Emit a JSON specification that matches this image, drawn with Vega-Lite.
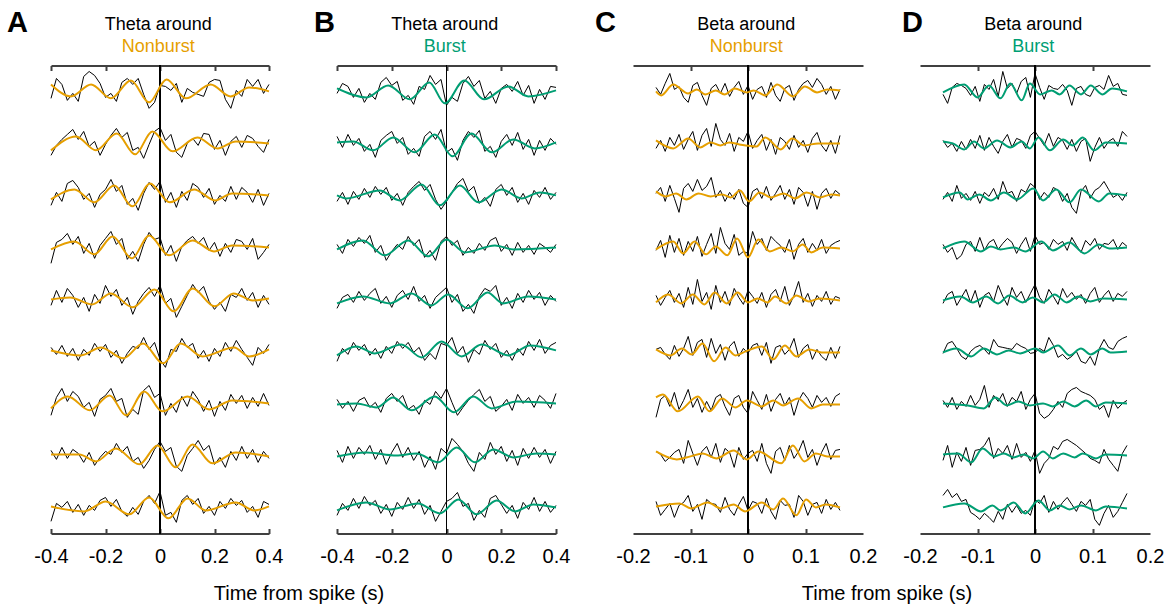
{
"$schema":"https://vega.github.io/schema/vega-lite/v6.json",
"padding":{"left":7,"top":8.5,"right":0,"bottom":0},
"config":{"font":"Liberation Sans","view":{"stroke":null},
"axis":{"domainColor":"#404040","domainWidth":2,"tickColor":"#404040","tickWidth":2,"tickSize":-5,"labelFontSize":20,"labelColor":"#000","labelPadding":18,"grid":false,"labelFlush":false,"labelOverlap":false,"title":null},
"title":{"fontSize":18,"fontWeight":"normal","color":"#000","subtitleFontSize":18,"subtitlePadding":4,"font":"Liberation Sans","subtitleFont":"Liberation Sans"}},
"spacing":25,
"hconcat":[
{"spacing":31,"title":{"text":"Time from spike (s)","orient":"bottom","anchor":"middle","frame":"bounds","fontSize":20,"offset":17,"dx":10.5},
"hconcat":[
{"title":{"text":"A","anchor":"start","frame":"group","fontSize":29,"fontWeight":"bold","dx":-44,"dy":26},
"vconcat":[{
"title":{"text":"Theta around","subtitle":"Nonburst","subtitleColor":"#E69F00","anchor":"middle","offset":8.25},
"data":{"values":[
{"k":1,"t":-0.4,"v":-7},{"k":1,"t":-0.38,"v":13},{"k":1,"t":-0.36,"v":7},{"k":1,"t":-0.34,"v":-9},{"k":1,"t":-0.32,"v":-2},{"k":1,"t":-0.3,"v":-10},{"k":1,"t":-0.28,"v":15},{"k":1,"t":-0.26,"v":20},{"k":1,"t":-0.24,"v":16},{"k":1,"t":-0.22,"v":8},{"k":1,"t":-0.2,"v":-6},{"k":1,"t":-0.18,"v":-2},{"k":1,"t":-0.16,"v":-10},{"k":1,"t":-0.14,"v":9},{"k":1,"t":-0.12,"v":13},{"k":1,"t":-0.1,"v":7},{"k":1,"t":-0.08,"v":13},{"k":1,"t":-0.06,"v":-3},{"k":1,"t":-0.04,"v":-17},{"k":1,"t":-0.02,"v":-11},{"k":1,"t":0,"v":6},{"k":1,"t":0.02,"v":5},{"k":1,"t":0.04,"v":1},{"k":1,"t":0.06,"v":8},{"k":1,"t":0.08,"v":-11},{"k":1,"t":0.1,"v":3},{"k":1,"t":0.12,"v":-1},{"k":1,"t":0.14,"v":-3},{"k":1,"t":0.16,"v":-5},{"k":1,"t":0.18,"v":9},{"k":1,"t":0.2,"v":12},{"k":1,"t":0.22,"v":11},{"k":1,"t":0.24,"v":-8},{"k":1,"t":0.26,"v":-17},{"k":1,"t":0.28,"v":1},{"k":1,"t":0.3,"v":-5},{"k":1,"t":0.32,"v":12},{"k":1,"t":0.34,"v":5},{"k":1,"t":0.36,"v":12},{"k":1,"t":0.38,"v":-2},{"k":1,"t":0.4,"v":7},
{"k":2,"t":-0.4,"v":-12},{"k":2,"t":-0.38,"v":-2},{"k":2,"t":-0.36,"v":4},{"k":2,"t":-0.34,"v":9},{"k":2,"t":-0.32,"v":14},{"k":2,"t":-0.3,"v":4},{"k":2,"t":-0.28,"v":12},{"k":2,"t":-0.26,"v":-3},{"k":2,"t":-0.24,"v":2},{"k":2,"t":-0.22,"v":-12},{"k":2,"t":-0.2,"v":-1},{"k":2,"t":-0.18,"v":8},{"k":2,"t":-0.16,"v":15},{"k":2,"t":-0.14,"v":6},{"k":2,"t":-0.12,"v":11},{"k":2,"t":-0.1,"v":-7},{"k":2,"t":-0.08,"v":-4},{"k":2,"t":-0.06,"v":-15},{"k":2,"t":-0.04,"v":-1},{"k":2,"t":-0.02,"v":12},{"k":2,"t":0,"v":16},{"k":2,"t":0.02,"v":3},{"k":2,"t":0.04,"v":9},{"k":2,"t":0.06,"v":-9},{"k":2,"t":0.08,"v":-14},{"k":2,"t":0.1,"v":0},{"k":2,"t":0.12,"v":5},{"k":2,"t":0.14,"v":-2},{"k":2,"t":0.16,"v":10},{"k":2,"t":0.18,"v":9},{"k":2,"t":0.2,"v":-6},{"k":2,"t":0.22,"v":3},{"k":2,"t":0.24,"v":-12},{"k":2,"t":0.26,"v":2},{"k":2,"t":0.28,"v":7},{"k":2,"t":0.3,"v":-4},{"k":2,"t":0.32,"v":8},{"k":2,"t":0.34,"v":5},{"k":2,"t":0.36,"v":-3},{"k":2,"t":0.38,"v":-9},{"k":2,"t":0.4,"v":4},
{"k":3,"t":-0.4,"v":-10},{"k":3,"t":-0.38,"v":3},{"k":3,"t":-0.36,"v":-6},{"k":3,"t":-0.34,"v":12},{"k":3,"t":-0.32,"v":15},{"k":3,"t":-0.3,"v":8},{"k":3,"t":-0.28,"v":-4},{"k":3,"t":-0.26,"v":2},{"k":3,"t":-0.24,"v":-12},{"k":3,"t":-0.22,"v":1},{"k":3,"t":-0.2,"v":6},{"k":3,"t":-0.18,"v":16},{"k":3,"t":-0.16,"v":4},{"k":3,"t":-0.14,"v":10},{"k":3,"t":-0.12,"v":-9},{"k":3,"t":-0.1,"v":-3},{"k":3,"t":-0.08,"v":-15},{"k":3,"t":-0.06,"v":2},{"k":3,"t":-0.04,"v":13},{"k":3,"t":-0.02,"v":6},{"k":3,"t":0,"v":14},{"k":3,"t":0.02,"v":-7},{"k":3,"t":0.04,"v":3},{"k":3,"t":0.06,"v":-12},{"k":3,"t":0.08,"v":4},{"k":3,"t":0.1,"v":-5},{"k":3,"t":0.12,"v":12},{"k":3,"t":0.14,"v":8},{"k":3,"t":0.16,"v":-2},{"k":3,"t":0.18,"v":7},{"k":3,"t":0.2,"v":-9},{"k":3,"t":0.22,"v":0},{"k":3,"t":0.24,"v":-6},{"k":3,"t":0.26,"v":9},{"k":3,"t":0.28,"v":-4},{"k":3,"t":0.3,"v":8},{"k":3,"t":0.32,"v":3},{"k":3,"t":0.34,"v":-7},{"k":3,"t":0.36,"v":6},{"k":3,"t":0.38,"v":-10},{"k":3,"t":0.4,"v":2},
{"k":4,"t":-0.4,"v":-16},{"k":4,"t":-0.38,"v":5},{"k":4,"t":-0.36,"v":8},{"k":4,"t":-0.34,"v":14},{"k":4,"t":-0.32,"v":3},{"k":4,"t":-0.3,"v":11},{"k":4,"t":-0.28,"v":-6},{"k":4,"t":-0.26,"v":4},{"k":4,"t":-0.24,"v":-11},{"k":4,"t":-0.22,"v":2},{"k":4,"t":-0.2,"v":9},{"k":4,"t":-0.18,"v":16},{"k":4,"t":-0.16,"v":3},{"k":4,"t":-0.14,"v":9},{"k":4,"t":-0.12,"v":-12},{"k":4,"t":-0.1,"v":-4},{"k":4,"t":-0.08,"v":-14},{"k":4,"t":-0.06,"v":3},{"k":4,"t":-0.04,"v":15},{"k":4,"t":-0.02,"v":8},{"k":4,"t":0,"v":10},{"k":4,"t":0.02,"v":-8},{"k":4,"t":0.04,"v":2},{"k":4,"t":0.06,"v":-14},{"k":4,"t":0.08,"v":1},{"k":4,"t":0.1,"v":7},{"k":4,"t":0.12,"v":11},{"k":4,"t":0.14,"v":4},{"k":4,"t":0.16,"v":10},{"k":4,"t":0.18,"v":-3},{"k":4,"t":0.2,"v":5},{"k":4,"t":0.22,"v":-9},{"k":4,"t":0.24,"v":4},{"k":4,"t":0.26,"v":-5},{"k":4,"t":0.28,"v":8},{"k":4,"t":0.3,"v":6},{"k":4,"t":0.32,"v":-2},{"k":4,"t":0.34,"v":9},{"k":4,"t":0.36,"v":-12},{"k":4,"t":0.38,"v":-5},{"k":4,"t":0.4,"v":3},
{"k":5,"t":-0.4,"v":-6},{"k":5,"t":-0.38,"v":9},{"k":5,"t":-0.36,"v":-3},{"k":5,"t":-0.34,"v":11},{"k":5,"t":-0.32,"v":4},{"k":5,"t":-0.3,"v":-8},{"k":5,"t":-0.28,"v":2},{"k":5,"t":-0.26,"v":-12},{"k":5,"t":-0.24,"v":5},{"k":5,"t":-0.22,"v":-4},{"k":5,"t":-0.2,"v":14},{"k":5,"t":-0.18,"v":3},{"k":5,"t":-0.16,"v":10},{"k":5,"t":-0.14,"v":-6},{"k":5,"t":-0.12,"v":2},{"k":5,"t":-0.1,"v":-15},{"k":5,"t":-0.08,"v":-2},{"k":5,"t":-0.06,"v":6},{"k":5,"t":-0.04,"v":12},{"k":5,"t":-0.02,"v":3},{"k":5,"t":0,"v":14},{"k":5,"t":0.02,"v":-4},{"k":5,"t":0.04,"v":1},{"k":5,"t":0.06,"v":-18},{"k":5,"t":0.08,"v":-7},{"k":5,"t":0.1,"v":4},{"k":5,"t":0.12,"v":15},{"k":5,"t":0.14,"v":7},{"k":5,"t":0.16,"v":13},{"k":5,"t":0.18,"v":-2},{"k":5,"t":0.2,"v":-10},{"k":5,"t":0.22,"v":-3},{"k":5,"t":0.24,"v":-12},{"k":5,"t":0.26,"v":5},{"k":5,"t":0.28,"v":2},{"k":5,"t":0.3,"v":11},{"k":5,"t":0.32,"v":-1},{"k":5,"t":0.34,"v":7},{"k":5,"t":0.36,"v":-8},{"k":5,"t":0.38,"v":4},{"k":5,"t":0.4,"v":-5},
{"k":6,"t":-0.4,"v":4},{"k":6,"t":-0.38,"v":-3},{"k":6,"t":-0.36,"v":6},{"k":6,"t":-0.34,"v":-5},{"k":6,"t":-0.32,"v":3},{"k":6,"t":-0.3,"v":-9},{"k":6,"t":-0.28,"v":2},{"k":6,"t":-0.26,"v":-4},{"k":6,"t":-0.24,"v":8},{"k":6,"t":-0.22,"v":0},{"k":6,"t":-0.2,"v":7},{"k":6,"t":-0.18,"v":-6},{"k":6,"t":-0.16,"v":1},{"k":6,"t":-0.14,"v":-12},{"k":6,"t":-0.12,"v":-2},{"k":6,"t":-0.1,"v":5},{"k":6,"t":-0.08,"v":3},{"k":6,"t":-0.06,"v":14},{"k":6,"t":-0.04,"v":2},{"k":6,"t":-0.02,"v":9},{"k":6,"t":0,"v":-8},{"k":6,"t":0.02,"v":-16},{"k":6,"t":0.04,"v":2},{"k":6,"t":0.06,"v":0},{"k":6,"t":0.08,"v":13},{"k":6,"t":0.1,"v":4},{"k":6,"t":0.12,"v":8},{"k":6,"t":0.14,"v":-7},{"k":6,"t":0.16,"v":1},{"k":6,"t":0.18,"v":-10},{"k":6,"t":0.2,"v":3},{"k":6,"t":0.22,"v":-5},{"k":6,"t":0.24,"v":9},{"k":6,"t":0.26,"v":0},{"k":6,"t":0.28,"v":11},{"k":6,"t":0.3,"v":2},{"k":6,"t":0.32,"v":-6},{"k":6,"t":0.34,"v":-14},{"k":6,"t":0.36,"v":4},{"k":6,"t":0.38,"v":-2},{"k":6,"t":0.4,"v":7},
{"k":7,"t":-0.4,"v":-12},{"k":7,"t":-0.38,"v":6},{"k":7,"t":-0.36,"v":15},{"k":7,"t":-0.34,"v":2},{"k":7,"t":-0.32,"v":12},{"k":7,"t":-0.3,"v":7},{"k":7,"t":-0.28,"v":-4},{"k":7,"t":-0.26,"v":1},{"k":7,"t":-0.24,"v":-13},{"k":7,"t":-0.22,"v":4},{"k":7,"t":-0.2,"v":8},{"k":7,"t":-0.18,"v":15},{"k":7,"t":-0.16,"v":2},{"k":7,"t":-0.14,"v":5},{"k":7,"t":-0.12,"v":-14},{"k":7,"t":-0.1,"v":-6},{"k":7,"t":-0.08,"v":-11},{"k":7,"t":-0.06,"v":13},{"k":7,"t":-0.04,"v":18},{"k":7,"t":-0.02,"v":6},{"k":7,"t":0,"v":10},{"k":7,"t":0.02,"v":-12},{"k":7,"t":0.04,"v":0},{"k":7,"t":0.06,"v":-9},{"k":7,"t":0.08,"v":7},{"k":7,"t":0.1,"v":-3},{"k":7,"t":0.12,"v":12},{"k":7,"t":0.14,"v":4},{"k":7,"t":0.16,"v":-8},{"k":7,"t":0.18,"v":3},{"k":7,"t":0.2,"v":-13},{"k":7,"t":0.22,"v":2},{"k":7,"t":0.24,"v":-7},{"k":7,"t":0.26,"v":9},{"k":7,"t":0.28,"v":0},{"k":7,"t":0.3,"v":8},{"k":7,"t":0.32,"v":-5},{"k":7,"t":0.34,"v":6},{"k":7,"t":0.36,"v":-3},{"k":7,"t":0.38,"v":10},{"k":7,"t":0.4,"v":-2},
{"k":8,"t":-0.4,"v":5},{"k":8,"t":-0.38,"v":-4},{"k":8,"t":-0.36,"v":8},{"k":8,"t":-0.34,"v":-3},{"k":8,"t":-0.32,"v":6},{"k":8,"t":-0.3,"v":2},{"k":8,"t":-0.28,"v":-7},{"k":8,"t":-0.26,"v":3},{"k":8,"t":-0.24,"v":-10},{"k":8,"t":-0.22,"v":-2},{"k":8,"t":-0.2,"v":4},{"k":8,"t":-0.18,"v":1},{"k":8,"t":-0.16,"v":12},{"k":8,"t":-0.14,"v":3},{"k":8,"t":-0.12,"v":9},{"k":8,"t":-0.1,"v":-6},{"k":8,"t":-0.08,"v":-2},{"k":8,"t":-0.06,"v":-13},{"k":8,"t":-0.04,"v":-5},{"k":8,"t":-0.02,"v":6},{"k":8,"t":0,"v":14},{"k":8,"t":0.02,"v":4},{"k":8,"t":0.04,"v":8},{"k":8,"t":0.06,"v":-11},{"k":8,"t":0.08,"v":-16},{"k":8,"t":0.1,"v":0},{"k":8,"t":0.12,"v":7},{"k":8,"t":0.14,"v":15},{"k":8,"t":0.16,"v":5},{"k":8,"t":0.18,"v":10},{"k":8,"t":0.2,"v":-9},{"k":8,"t":0.22,"v":-2},{"k":8,"t":0.24,"v":-12},{"k":8,"t":0.26,"v":4},{"k":8,"t":0.28,"v":-5},{"k":8,"t":0.3,"v":9},{"k":8,"t":0.32,"v":-3},{"k":8,"t":0.34,"v":6},{"k":8,"t":0.36,"v":-7},{"k":8,"t":0.38,"v":4},{"k":8,"t":0.4,"v":-3},
{"k":9,"t":-0.4,"v":-14},{"k":9,"t":-0.38,"v":4},{"k":9,"t":-0.36,"v":0},{"k":9,"t":-0.34,"v":6},{"k":9,"t":-0.32,"v":-5},{"k":9,"t":-0.3,"v":3},{"k":9,"t":-0.28,"v":-8},{"k":9,"t":-0.26,"v":2},{"k":9,"t":-0.24,"v":-3},{"k":9,"t":-0.22,"v":7},{"k":9,"t":-0.2,"v":10},{"k":9,"t":-0.18,"v":1},{"k":9,"t":-0.16,"v":8},{"k":9,"t":-0.14,"v":-4},{"k":9,"t":-0.12,"v":-9},{"k":9,"t":-0.1,"v":0},{"k":9,"t":-0.08,"v":-7},{"k":9,"t":-0.06,"v":6},{"k":9,"t":-0.04,"v":12},{"k":9,"t":-0.02,"v":4},{"k":9,"t":0,"v":16},{"k":9,"t":0.02,"v":-8},{"k":9,"t":0.04,"v":-5},{"k":9,"t":0.06,"v":-15},{"k":9,"t":0.08,"v":7},{"k":9,"t":0.1,"v":12},{"k":9,"t":0.12,"v":3},{"k":9,"t":0.14,"v":9},{"k":9,"t":0.16,"v":-6},{"k":9,"t":0.18,"v":1},{"k":9,"t":0.2,"v":-8},{"k":9,"t":0.22,"v":6},{"k":9,"t":0.24,"v":-1},{"k":9,"t":0.26,"v":9},{"k":9,"t":0.28,"v":2},{"k":9,"t":0.3,"v":7},{"k":9,"t":0.32,"v":-5},{"k":9,"t":0.34,"v":1},{"k":9,"t":0.36,"v":-10},{"k":9,"t":0.38,"v":6},{"k":9,"t":0.4,"v":3},
{"k":1,"t":-0.4,"f":7},{"k":1,"t":-0.327,"f":-5},{"k":1,"t":-0.253,"f":7},{"k":1,"t":-0.18,"f":-7},{"k":1,"t":-0.107,"f":11},{"k":1,"t":-0.04,"f":-11},{"k":1,"t":0.024,"f":12},{"k":1,"t":0.095,"f":-7},{"k":1,"t":0.186,"f":7},{"k":1,"t":0.259,"f":-5},{"k":1,"t":0.327,"f":4},{"k":1,"t":0.4,"f":0},
{"k":2,"t":-0.4,"f":-7},{"k":2,"t":-0.308,"f":7},{"k":2,"t":-0.235,"f":-7},{"k":2,"t":-0.159,"f":10},{"k":2,"t":-0.091,"f":-11},{"k":2,"t":-0.028,"f":12},{"k":2,"t":0.046,"f":-8},{"k":2,"t":0.137,"f":6},{"k":2,"t":0.211,"f":-5},{"k":2,"t":0.278,"f":2},{"k":2,"t":0.4,"f":0},
{"k":3,"t":-0.4,"f":-4},{"k":3,"t":-0.314,"f":6},{"k":3,"t":-0.241,"f":-7},{"k":3,"t":-0.168,"f":10},{"k":3,"t":-0.101,"f":-11},{"k":3,"t":-0.037,"f":12},{"k":3,"t":0.036,"f":-7},{"k":3,"t":0.125,"f":6},{"k":3,"t":0.202,"f":-5},{"k":3,"t":0.265,"f":2},{"k":3,"t":0.4,"f":0},
{"k":4,"t":-0.4,"f":-2},{"k":4,"t":-0.314,"f":6},{"k":4,"t":-0.241,"f":-7},{"k":4,"t":-0.174,"f":11},{"k":4,"t":-0.103,"f":-11},{"k":4,"t":-0.04,"f":12},{"k":4,"t":0.033,"f":-8},{"k":4,"t":0.119,"f":7},{"k":4,"t":0.198,"f":-4},{"k":4,"t":0.265,"f":2},{"k":4,"t":0.4,"f":0},
{"k":5,"t":-0.4,"f":0},{"k":5,"t":-0.33,"f":2},{"k":5,"t":-0.25,"f":-5},{"k":5,"t":-0.18,"f":6},{"k":5,"t":-0.1,"f":-8},{"k":5,"t":-0.02,"f":10},{"k":5,"t":0.05,"f":-12},{"k":5,"t":0.12,"f":11},{"k":5,"t":0.2,"f":-7},{"k":5,"t":0.27,"f":6},{"k":5,"t":0.34,"f":-1},{"k":5,"t":0.4,"f":1},
{"k":6,"t":-0.4,"f":1},{"k":6,"t":-0.29,"f":-4},{"k":6,"t":-0.217,"f":4},{"k":6,"t":-0.135,"f":-7},{"k":6,"t":-0.062,"f":8},{"k":6,"t":0.011,"f":-12},{"k":6,"t":0.076,"f":8},{"k":6,"t":0.156,"f":-5},{"k":6,"t":0.272,"f":4},{"k":6,"t":0.327,"f":-5},{"k":6,"t":0.4,"f":2},
{"k":7,"t":-0.4,"f":-5},{"k":7,"t":-0.338,"f":7},{"k":7,"t":-0.258,"f":-7},{"k":7,"t":-0.185,"f":8},{"k":7,"t":-0.125,"f":-12},{"k":7,"t":-0.058,"f":12},{"k":7,"t":0.009,"f":-8},{"k":7,"t":0.101,"f":7},{"k":7,"t":0.181,"f":-6},{"k":7,"t":0.265,"f":3},{"k":7,"t":0.4,"f":0},
{"k":8,"t":-0.4,"f":1},{"k":8,"t":-0.296,"f":1},{"k":8,"t":-0.235,"f":-6},{"k":8,"t":-0.162,"f":7},{"k":8,"t":-0.076,"f":-9},{"k":8,"t":-0.009,"f":10},{"k":8,"t":0.058,"f":-12},{"k":8,"t":0.119,"f":11},{"k":8,"t":0.192,"f":-8},{"k":8,"t":0.278,"f":3},{"k":8,"t":0.4,"f":-1},
{"k":9,"t":-0.4,"f":1},{"k":9,"t":-0.278,"f":-4},{"k":9,"t":-0.199,"f":6},{"k":9,"t":-0.113,"f":-7},{"k":9,"t":-0.04,"f":10},{"k":9,"t":0.031,"f":-11},{"k":9,"t":0.101,"f":9},{"k":9,"t":0.168,"f":-3},{"k":9,"t":0.278,"f":5},{"k":9,"t":0.345,"f":-3},{"k":9,"t":0.4,"f":1}
]},
"facet":{"row":{"field":"k","type":"ordinal","header":null}},
"spacing":{"row":0},"bounds":"flush",
"spec":{"width":218,"height":51.8,
"layer":[
{"mark":{"type":"rule","color":"#000","strokeWidth":1},"encoding":{"x":{"datum":0,"type":"quantitative","scale":{"domain":[-0.4,0.4],"nice":false,"zero":false},"axis":{"orient":"top","labels":false,"values":[-0.4,-0.2,0,0.2,0.4]}}}},
{"transform":[{"filter":"isValid(datum.v)"}],"mark":{"type":"line","color":"#000","strokeWidth":1},"encoding":{"x":{"field":"t","type":"quantitative","scale":{"domain":[-0.4,0.4],"nice":false,"zero":false},"axis":{"orient":"bottom","values":[-0.4,-0.2,0,0.2,0.4],"labelExpr":"(datum.value < 0 ? '-' : '') + (datum.value == 0 ? '0' : format(abs(datum.value), '.1f'))"}},"y":{"field":"v","type":"quantitative","scale":{"domain":[-26,26],"nice":false,"zero":false},"axis":null}}},
{"transform":[{"filter":"isValid(datum.f)"}],"mark":{"type":"line","color":"#E69F00","strokeWidth":2,"interpolate":"monotone"},"encoding":{"x":{"field":"t","type":"quantitative","axis":null},"y":{"field":"f","type":"quantitative","axis":null}}}
],
"resolve":{"axis":{"x":"independent"}}}
}]},
{"title":{"text":"B","anchor":"start","frame":"group","fontSize":29,"fontWeight":"bold","dx":-23,"dy":26},
"vconcat":[{
"title":{"text":"Theta around","subtitle":"Burst","subtitleColor":"#009E73","anchor":"middle","offset":8.25},
"data":{"values":[
{"k":1,"t":-0.4,"v":-2},{"k":1,"t":-0.38,"v":8},{"k":1,"t":-0.36,"v":5},{"k":1,"t":-0.34,"v":-6},{"k":1,"t":-0.32,"v":3},{"k":1,"t":-0.3,"v":-11},{"k":1,"t":-0.28,"v":-2},{"k":1,"t":-0.26,"v":-8},{"k":1,"t":-0.24,"v":9},{"k":1,"t":-0.22,"v":14},{"k":1,"t":-0.2,"v":6},{"k":1,"t":-0.18,"v":10},{"k":1,"t":-0.16,"v":-9},{"k":1,"t":-0.14,"v":-4},{"k":1,"t":-0.12,"v":-13},{"k":1,"t":-0.1,"v":5},{"k":1,"t":-0.08,"v":2},{"k":1,"t":-0.06,"v":16},{"k":1,"t":-0.04,"v":7},{"k":1,"t":-0.02,"v":12},{"k":1,"t":0,"v":-14},{"k":1,"t":0.02,"v":-6},{"k":1,"t":0.04,"v":-10},{"k":1,"t":0.06,"v":8},{"k":1,"t":0.08,"v":15},{"k":1,"t":0.1,"v":5},{"k":1,"t":0.12,"v":11},{"k":1,"t":0.14,"v":-7},{"k":1,"t":0.16,"v":0},{"k":1,"t":0.18,"v":-12},{"k":1,"t":0.2,"v":3},{"k":1,"t":0.22,"v":7},{"k":1,"t":0.24,"v":0},{"k":1,"t":0.26,"v":10},{"k":1,"t":0.28,"v":-4},{"k":1,"t":0.3,"v":6},{"k":1,"t":0.32,"v":-12},{"k":1,"t":0.34,"v":2},{"k":1,"t":0.36,"v":-8},{"k":1,"t":0.38,"v":5},{"k":1,"t":0.4,"v":4},
{"k":2,"t":-0.4,"v":7},{"k":2,"t":-0.38,"v":-4},{"k":2,"t":-0.36,"v":9},{"k":2,"t":-0.34,"v":-2},{"k":2,"t":-0.32,"v":5},{"k":2,"t":-0.3,"v":-8},{"k":2,"t":-0.28,"v":-1},{"k":2,"t":-0.26,"v":-14},{"k":2,"t":-0.24,"v":3},{"k":2,"t":-0.22,"v":8},{"k":2,"t":-0.2,"v":12},{"k":2,"t":-0.18,"v":0},{"k":2,"t":-0.16,"v":6},{"k":2,"t":-0.14,"v":-11},{"k":2,"t":-0.12,"v":-5},{"k":2,"t":-0.1,"v":-13},{"k":2,"t":-0.08,"v":7},{"k":2,"t":-0.06,"v":12},{"k":2,"t":-0.04,"v":4},{"k":2,"t":-0.02,"v":14},{"k":2,"t":0,"v":-9},{"k":2,"t":0.02,"v":-5},{"k":2,"t":0.04,"v":-17},{"k":2,"t":0.06,"v":3},{"k":2,"t":0.08,"v":12},{"k":2,"t":0.1,"v":6},{"k":2,"t":0.12,"v":13},{"k":2,"t":0.14,"v":-8},{"k":2,"t":0.16,"v":-3},{"k":2,"t":0.18,"v":-14},{"k":2,"t":0.2,"v":2},{"k":2,"t":0.22,"v":9},{"k":2,"t":0.24,"v":-2},{"k":2,"t":0.26,"v":11},{"k":2,"t":0.28,"v":-6},{"k":2,"t":0.3,"v":4},{"k":2,"t":0.32,"v":-12},{"k":2,"t":0.34,"v":3},{"k":2,"t":0.36,"v":-7},{"k":2,"t":0.38,"v":5},{"k":2,"t":0.4,"v":-1},
{"k":3,"t":-0.4,"v":-6},{"k":3,"t":-0.38,"v":3},{"k":3,"t":-0.36,"v":-9},{"k":3,"t":-0.34,"v":4},{"k":3,"t":-0.32,"v":-4},{"k":3,"t":-0.3,"v":7},{"k":3,"t":-0.28,"v":-2},{"k":3,"t":-0.26,"v":9},{"k":3,"t":-0.24,"v":1},{"k":3,"t":-0.22,"v":8},{"k":3,"t":-0.2,"v":-5},{"k":3,"t":-0.18,"v":2},{"k":3,"t":-0.16,"v":-10},{"k":3,"t":-0.14,"v":3},{"k":3,"t":-0.12,"v":9},{"k":3,"t":-0.1,"v":14},{"k":3,"t":-0.08,"v":5},{"k":3,"t":-0.06,"v":11},{"k":3,"t":-0.04,"v":-4},{"k":3,"t":-0.02,"v":-14},{"k":3,"t":0,"v":-6},{"k":3,"t":0.02,"v":3},{"k":3,"t":0.04,"v":12},{"k":3,"t":0.06,"v":17},{"k":3,"t":0.08,"v":4},{"k":3,"t":0.1,"v":9},{"k":3,"t":0.12,"v":-8},{"k":3,"t":0.14,"v":-2},{"k":3,"t":0.16,"v":-11},{"k":3,"t":0.18,"v":6},{"k":3,"t":0.2,"v":11},{"k":3,"t":0.22,"v":0},{"k":3,"t":0.24,"v":8},{"k":3,"t":0.26,"v":-7},{"k":3,"t":0.28,"v":2},{"k":3,"t":0.3,"v":-9},{"k":3,"t":0.32,"v":5},{"k":3,"t":0.34,"v":-2},{"k":3,"t":0.36,"v":8},{"k":3,"t":0.38,"v":-4},{"k":3,"t":0.4,"v":3},
{"k":4,"t":-0.4,"v":3},{"k":4,"t":-0.38,"v":-6},{"k":4,"t":-0.36,"v":8},{"k":4,"t":-0.34,"v":1},{"k":4,"t":-0.32,"v":10},{"k":4,"t":-0.3,"v":4},{"k":4,"t":-0.28,"v":12},{"k":4,"t":-0.26,"v":-5},{"k":4,"t":-0.24,"v":2},{"k":4,"t":-0.22,"v":-13},{"k":4,"t":-0.2,"v":-4},{"k":4,"t":-0.18,"v":3},{"k":4,"t":-0.16,"v":-2},{"k":4,"t":-0.14,"v":11},{"k":4,"t":-0.12,"v":2},{"k":4,"t":-0.1,"v":8},{"k":4,"t":-0.08,"v":-10},{"k":4,"t":-0.06,"v":-3},{"k":4,"t":-0.04,"v":-13},{"k":4,"t":-0.02,"v":6},{"k":4,"t":0,"v":11},{"k":4,"t":0.02,"v":2},{"k":4,"t":0.04,"v":7},{"k":4,"t":0.06,"v":-8},{"k":4,"t":0.08,"v":0},{"k":4,"t":0.1,"v":-6},{"k":4,"t":0.12,"v":4},{"k":4,"t":0.14,"v":-3},{"k":4,"t":0.16,"v":7},{"k":4,"t":0.18,"v":10},{"k":4,"t":0.2,"v":-4},{"k":4,"t":0.22,"v":3},{"k":4,"t":0.24,"v":-8},{"k":4,"t":0.26,"v":5},{"k":4,"t":0.28,"v":-5},{"k":4,"t":0.3,"v":2},{"k":4,"t":0.32,"v":-7},{"k":4,"t":0.34,"v":4},{"k":4,"t":0.36,"v":0},{"k":4,"t":0.38,"v":-5},{"k":4,"t":0.4,"v":3},
{"k":5,"t":-0.4,"v":-9},{"k":5,"t":-0.38,"v":2},{"k":5,"t":-0.36,"v":5},{"k":5,"t":-0.34,"v":-3},{"k":5,"t":-0.32,"v":8},{"k":5,"t":-0.3,"v":-1},{"k":5,"t":-0.28,"v":6},{"k":5,"t":-0.26,"v":11},{"k":5,"t":-0.24,"v":-4},{"k":5,"t":-0.22,"v":3},{"k":5,"t":-0.2,"v":-8},{"k":5,"t":-0.18,"v":4},{"k":5,"t":-0.16,"v":9},{"k":5,"t":-0.14,"v":0},{"k":5,"t":-0.12,"v":13},{"k":5,"t":-0.1,"v":-2},{"k":5,"t":-0.08,"v":4},{"k":5,"t":-0.06,"v":-9},{"k":5,"t":-0.04,"v":2},{"k":5,"t":-0.02,"v":7},{"k":5,"t":0,"v":12},{"k":5,"t":0.02,"v":-3},{"k":5,"t":0.04,"v":5},{"k":5,"t":0.06,"v":-12},{"k":5,"t":0.08,"v":-5},{"k":5,"t":0.1,"v":-14},{"k":5,"t":0.12,"v":3},{"k":5,"t":0.14,"v":11},{"k":5,"t":0.16,"v":8},{"k":5,"t":0.18,"v":14},{"k":5,"t":0.2,"v":-6},{"k":5,"t":0.22,"v":2},{"k":5,"t":0.24,"v":-9},{"k":5,"t":0.26,"v":6},{"k":5,"t":0.28,"v":-3},{"k":5,"t":0.3,"v":9},{"k":5,"t":0.32,"v":0},{"k":5,"t":0.34,"v":7},{"k":5,"t":0.36,"v":-6},{"k":5,"t":0.38,"v":4},{"k":5,"t":0.4,"v":-2},
{"k":6,"t":-0.4,"v":-10},{"k":6,"t":-0.38,"v":3},{"k":6,"t":-0.36,"v":-3},{"k":6,"t":-0.34,"v":9},{"k":6,"t":-0.32,"v":1},{"k":6,"t":-0.3,"v":7},{"k":6,"t":-0.28,"v":-4},{"k":6,"t":-0.26,"v":3},{"k":6,"t":-0.24,"v":-7},{"k":6,"t":-0.22,"v":5},{"k":6,"t":-0.2,"v":-2},{"k":6,"t":-0.18,"v":10},{"k":6,"t":-0.16,"v":3},{"k":6,"t":-0.14,"v":9},{"k":6,"t":-0.12,"v":-1},{"k":6,"t":-0.1,"v":4},{"k":6,"t":-0.08,"v":-9},{"k":6,"t":-0.06,"v":-2},{"k":6,"t":-0.04,"v":-8},{"k":6,"t":-0.02,"v":8},{"k":6,"t":0,"v":6},{"k":6,"t":0.02,"v":14},{"k":6,"t":0.04,"v":-2},{"k":6,"t":0.06,"v":5},{"k":6,"t":0.08,"v":-11},{"k":6,"t":0.1,"v":2},{"k":6,"t":0.12,"v":-3},{"k":6,"t":0.14,"v":11},{"k":6,"t":0.16,"v":2},{"k":6,"t":0.18,"v":8},{"k":6,"t":0.2,"v":-6},{"k":6,"t":0.22,"v":1},{"k":6,"t":0.24,"v":-9},{"k":6,"t":0.26,"v":3},{"k":6,"t":0.28,"v":-4},{"k":6,"t":0.3,"v":10},{"k":6,"t":0.32,"v":1},{"k":6,"t":0.34,"v":12},{"k":6,"t":0.36,"v":-2},{"k":6,"t":0.38,"v":6},{"k":6,"t":0.4,"v":9},
{"k":7,"t":-0.4,"v":4},{"k":7,"t":-0.38,"v":-5},{"k":7,"t":-0.36,"v":2},{"k":7,"t":-0.34,"v":-8},{"k":7,"t":-0.32,"v":3},{"k":7,"t":-0.3,"v":6},{"k":7,"t":-0.28,"v":-4},{"k":7,"t":-0.26,"v":1},{"k":7,"t":-0.24,"v":-9},{"k":7,"t":-0.22,"v":5},{"k":7,"t":-0.2,"v":10},{"k":7,"t":-0.18,"v":2},{"k":7,"t":-0.16,"v":8},{"k":7,"t":-0.14,"v":-6},{"k":7,"t":-0.12,"v":-2},{"k":7,"t":-0.1,"v":-11},{"k":7,"t":-0.08,"v":3},{"k":7,"t":-0.06,"v":-1},{"k":7,"t":-0.04,"v":12},{"k":7,"t":-0.02,"v":5},{"k":7,"t":0,"v":15},{"k":7,"t":0.02,"v":1},{"k":7,"t":0.04,"v":-12},{"k":7,"t":0.06,"v":-4},{"k":7,"t":0.08,"v":3},{"k":7,"t":0.1,"v":9},{"k":7,"t":0.12,"v":14},{"k":7,"t":0.14,"v":2},{"k":7,"t":0.16,"v":7},{"k":7,"t":0.18,"v":-8},{"k":7,"t":0.2,"v":-3},{"k":7,"t":0.22,"v":4},{"k":7,"t":0.24,"v":-7},{"k":7,"t":0.26,"v":9},{"k":7,"t":0.28,"v":0},{"k":7,"t":0.3,"v":6},{"k":7,"t":0.32,"v":-4},{"k":7,"t":0.34,"v":8},{"k":7,"t":0.36,"v":3},{"k":7,"t":0.38,"v":-5},{"k":7,"t":0.4,"v":10},
{"k":8,"t":-0.4,"v":5},{"k":8,"t":-0.38,"v":-7},{"k":8,"t":-0.36,"v":9},{"k":8,"t":-0.34,"v":-3},{"k":8,"t":-0.32,"v":8},{"k":8,"t":-0.3,"v":1},{"k":8,"t":-0.28,"v":10},{"k":8,"t":-0.26,"v":-4},{"k":8,"t":-0.24,"v":6},{"k":8,"t":-0.22,"v":-9},{"k":8,"t":-0.2,"v":3},{"k":8,"t":-0.18,"v":12},{"k":8,"t":-0.16,"v":-2},{"k":8,"t":-0.14,"v":8},{"k":8,"t":-0.12,"v":-5},{"k":8,"t":-0.1,"v":4},{"k":8,"t":-0.08,"v":-12},{"k":8,"t":-0.06,"v":-1},{"k":8,"t":-0.04,"v":-14},{"k":8,"t":-0.02,"v":7},{"k":8,"t":0,"v":2},{"k":8,"t":0.02,"v":17},{"k":8,"t":0.04,"v":11},{"k":8,"t":0.06,"v":4},{"k":8,"t":0.08,"v":-8},{"k":8,"t":0.1,"v":-16},{"k":8,"t":0.12,"v":3},{"k":8,"t":0.14,"v":-4},{"k":8,"t":0.16,"v":13},{"k":8,"t":0.18,"v":1},{"k":8,"t":0.2,"v":9},{"k":8,"t":0.22,"v":-6},{"k":8,"t":0.24,"v":5},{"k":8,"t":0.26,"v":-10},{"k":8,"t":0.28,"v":7},{"k":8,"t":0.3,"v":-3},{"k":8,"t":0.32,"v":8},{"k":8,"t":0.34,"v":-2},{"k":8,"t":0.36,"v":6},{"k":8,"t":0.38,"v":-8},{"k":8,"t":0.4,"v":4},
{"k":9,"t":-0.4,"v":-8},{"k":9,"t":-0.38,"v":4},{"k":9,"t":-0.36,"v":-3},{"k":9,"t":-0.34,"v":9},{"k":9,"t":-0.32,"v":-1},{"k":9,"t":-0.3,"v":11},{"k":9,"t":-0.28,"v":2},{"k":9,"t":-0.26,"v":7},{"k":9,"t":-0.24,"v":-6},{"k":9,"t":-0.22,"v":3},{"k":9,"t":-0.2,"v":-9},{"k":9,"t":-0.18,"v":5},{"k":9,"t":-0.16,"v":-2},{"k":9,"t":-0.14,"v":10},{"k":9,"t":-0.12,"v":-1},{"k":9,"t":-0.1,"v":8},{"k":9,"t":-0.08,"v":-7},{"k":9,"t":-0.06,"v":2},{"k":9,"t":-0.04,"v":-14},{"k":9,"t":-0.02,"v":-4},{"k":9,"t":0,"v":6},{"k":9,"t":0.02,"v":9},{"k":9,"t":0.04,"v":15},{"k":9,"t":0.06,"v":1},{"k":9,"t":0.08,"v":4},{"k":9,"t":0.1,"v":-13},{"k":9,"t":0.12,"v":-3},{"k":9,"t":0.14,"v":-10},{"k":9,"t":0.16,"v":9},{"k":9,"t":0.18,"v":12},{"k":9,"t":0.2,"v":3},{"k":9,"t":0.22,"v":-6},{"k":9,"t":0.24,"v":2},{"k":9,"t":0.26,"v":-11},{"k":9,"t":0.28,"v":5},{"k":9,"t":0.3,"v":-2},{"k":9,"t":0.32,"v":10},{"k":9,"t":0.34,"v":-4},{"k":9,"t":0.36,"v":6},{"k":9,"t":0.38,"v":-5},{"k":9,"t":0.4,"v":2},
{"k":1,"t":-0.4,"f":3},{"k":1,"t":-0.293,"f":-6},{"k":1,"t":-0.213,"f":6},{"k":1,"t":-0.134,"f":-8},{"k":1,"t":-0.063,"f":9},{"k":1,"t":-0.006,"f":-12},{"k":1,"t":0.065,"f":11},{"k":1,"t":0.137,"f":-8},{"k":1,"t":0.226,"f":5},{"k":1,"t":0.299,"f":-5},{"k":1,"t":0.4,"f":1},
{"k":2,"t":-0.4,"f":1},{"k":2,"t":-0.341,"f":2},{"k":2,"t":-0.268,"f":-7},{"k":2,"t":-0.195,"f":6},{"k":2,"t":-0.116,"f":-9},{"k":2,"t":-0.043,"f":9},{"k":2,"t":0.022,"f":-13},{"k":2,"t":0.091,"f":10},{"k":2,"t":0.165,"f":-9},{"k":2,"t":0.244,"f":4},{"k":2,"t":0.323,"f":-5},{"k":2,"t":0.4,"f":1},
{"k":3,"t":-0.4,"f":0},{"k":3,"t":-0.366,"f":-3},{"k":3,"t":-0.244,"f":5},{"k":3,"t":-0.171,"f":-5},{"k":3,"t":-0.091,"f":11},{"k":3,"t":-0.024,"f":-10},{"k":3,"t":0.049,"f":10},{"k":3,"t":0.116,"f":-7},{"k":3,"t":0.201,"f":6},{"k":3,"t":0.274,"f":-3},{"k":3,"t":0.341,"f":3},{"k":3,"t":0.4,"f":0},
{"k":4,"t":-0.4,"f":-2},{"k":4,"t":-0.305,"f":7},{"k":4,"t":-0.226,"f":-8},{"k":4,"t":-0.14,"f":7},{"k":4,"t":-0.067,"f":-9},{"k":4,"t":0,"f":8},{"k":4,"t":0.067,"f":-5},{"k":4,"t":0.177,"f":2},{"k":4,"t":0.244,"f":-2},{"k":4,"t":0.4,"f":0},
{"k":5,"t":-0.4,"f":-4},{"k":5,"t":-0.305,"f":3},{"k":5,"t":-0.207,"f":-4},{"k":5,"t":-0.128,"f":6},{"k":5,"t":-0.055,"f":-6},{"k":5,"t":0.006,"f":5},{"k":5,"t":0.077,"f":-9},{"k":5,"t":0.15,"f":7},{"k":5,"t":0.206,"f":-4},{"k":5,"t":0.299,"f":3},{"k":5,"t":0.4,"f":0},
{"k":6,"t":-0.4,"f":-4},{"k":6,"t":-0.329,"f":5},{"k":6,"t":-0.262,"f":-2},{"k":6,"t":-0.165,"f":7},{"k":6,"t":-0.091,"f":-6},{"k":6,"t":-0.018,"f":10},{"k":6,"t":0.055,"f":-5},{"k":6,"t":0.128,"f":7},{"k":6,"t":0.226,"f":-4},{"k":6,"t":0.305,"f":6},{"k":6,"t":0.4,"f":1},
{"k":7,"t":-0.4,"f":-1},{"k":7,"t":-0.329,"f":0},{"k":7,"t":-0.256,"f":-4},{"k":7,"t":-0.195,"f":6},{"k":7,"t":-0.128,"f":-7},{"k":7,"t":-0.043,"f":7},{"k":7,"t":0.027,"f":-9},{"k":7,"t":0.098,"f":7},{"k":7,"t":0.165,"f":-5},{"k":7,"t":0.256,"f":2},{"k":7,"t":0.4,"f":0},
{"k":8,"t":-0.4,"f":-1},{"k":8,"t":-0.293,"f":3},{"k":8,"t":-0.183,"f":0},{"k":8,"t":-0.11,"f":2},{"k":8,"t":-0.03,"f":-7},{"k":8,"t":0.037,"f":8},{"k":8,"t":0.104,"f":-7},{"k":8,"t":0.171,"f":6},{"k":8,"t":0.244,"f":-2},{"k":8,"t":0.329,"f":2},{"k":8,"t":0.4,"f":1},
{"k":9,"t":-0.4,"f":-3},{"k":9,"t":-0.293,"f":5},{"k":9,"t":-0.207,"f":-2},{"k":9,"t":-0.104,"f":4},{"k":9,"t":-0.024,"f":-6},{"k":9,"t":0.043,"f":8},{"k":9,"t":0.11,"f":-7},{"k":9,"t":0.183,"f":7},{"k":9,"t":0.25,"f":-4},{"k":9,"t":0.317,"f":3},{"k":9,"t":0.4,"f":0}
]},
"facet":{"row":{"field":"k","type":"ordinal","header":null}},
"spacing":{"row":0},"bounds":"flush",
"spec":{"width":219,"height":51.8,
"layer":[
{"mark":{"type":"rule","color":"#000","strokeWidth":1},"encoding":{"x":{"datum":0,"type":"quantitative","scale":{"domain":[-0.4,0.4],"nice":false,"zero":false},"axis":{"orient":"top","labels":false,"values":[-0.4,-0.2,0,0.2,0.4]}}}},
{"transform":[{"filter":"isValid(datum.v)"}],"mark":{"type":"line","color":"#000","strokeWidth":1},"encoding":{"x":{"field":"t","type":"quantitative","scale":{"domain":[-0.4,0.4],"nice":false,"zero":false},"axis":{"orient":"bottom","values":[-0.4,-0.2,0,0.2,0.4],"labelExpr":"(datum.value < 0 ? '-' : '') + (datum.value == 0 ? '0' : format(abs(datum.value), '.1f'))"}},"y":{"field":"v","type":"quantitative","scale":{"domain":[-26,26],"nice":false,"zero":false},"axis":null}}},
{"transform":[{"filter":"isValid(datum.f)"}],"mark":{"type":"line","color":"#009E73","strokeWidth":2,"interpolate":"monotone"},"encoding":{"x":{"field":"t","type":"quantitative","axis":null},"y":{"field":"f","type":"quantitative","axis":null}}}
],
"resolve":{"axis":{"x":"independent"}}}
}]}
]},
{"spacing":25,"title":{"text":"Time from spike (s)","orient":"bottom","anchor":"middle","frame":"bounds","fontSize":20,"offset":17,"dx":7.5},
"hconcat":[
{"title":{"text":"C","anchor":"start","frame":"group","fontSize":29,"fontWeight":"bold","dx":-38,"dy":26},
"vconcat":[{
"title":{"text":"Beta around","subtitle":"Nonburst","subtitleColor":"#E69F00","anchor":"middle","offset":8.25},
"data":{"values":[
{"k":1,"t":-0.16,"v":4},{"k":1,"t":-0.152,"v":-3},{"k":1,"t":-0.144,"v":8},{"k":1,"t":-0.136,"v":18},{"k":1,"t":-0.128,"v":2},{"k":1,"t":-0.12,"v":5},{"k":1,"t":-0.112,"v":-6},{"k":1,"t":-0.104,"v":-11},{"k":1,"t":-0.096,"v":6},{"k":1,"t":-0.088,"v":9},{"k":1,"t":-0.08,"v":-4},{"k":1,"t":-0.072,"v":-14},{"k":1,"t":-0.064,"v":3},{"k":1,"t":-0.056,"v":7},{"k":1,"t":-0.048,"v":-2},{"k":1,"t":-0.04,"v":8},{"k":1,"t":-0.032,"v":-5},{"k":1,"t":-0.024,"v":4},{"k":1,"t":-0.016,"v":10},{"k":1,"t":-0.008,"v":-3},{"k":1,"t":0,"v":6},{"k":1,"t":0.008,"v":-8},{"k":1,"t":0.016,"v":2},{"k":1,"t":0.024,"v":5},{"k":1,"t":0.032,"v":-6},{"k":1,"t":0.04,"v":9},{"k":1,"t":0.048,"v":-4},{"k":1,"t":0.056,"v":-10},{"k":1,"t":0.064,"v":3},{"k":1,"t":0.072,"v":6},{"k":1,"t":0.08,"v":-9},{"k":1,"t":0.088,"v":2},{"k":1,"t":0.096,"v":8},{"k":1,"t":0.104,"v":11},{"k":1,"t":0.112,"v":4},{"k":1,"t":0.12,"v":13},{"k":1,"t":0.128,"v":7},{"k":1,"t":0.136,"v":-3},{"k":1,"t":0.144,"v":5},{"k":1,"t":0.152,"v":-8},{"k":1,"t":0.16,"v":2},
{"k":2,"t":-0.16,"v":-5},{"k":2,"t":-0.152,"v":3},{"k":2,"t":-0.144,"v":-8},{"k":2,"t":-0.136,"v":6},{"k":2,"t":-0.128,"v":-2},{"k":2,"t":-0.12,"v":9},{"k":2,"t":-0.112,"v":-6},{"k":2,"t":-0.104,"v":4},{"k":2,"t":-0.096,"v":12},{"k":2,"t":-0.088,"v":-7},{"k":2,"t":-0.08,"v":8},{"k":2,"t":-0.072,"v":15},{"k":2,"t":-0.064,"v":-3},{"k":2,"t":-0.056,"v":20},{"k":2,"t":-0.048,"v":4},{"k":2,"t":-0.04,"v":-2},{"k":2,"t":-0.032,"v":10},{"k":2,"t":-0.024,"v":-8},{"k":2,"t":-0.016,"v":6},{"k":2,"t":-0.008,"v":2},{"k":2,"t":0,"v":12},{"k":2,"t":0.008,"v":-5},{"k":2,"t":0.016,"v":3},{"k":2,"t":0.024,"v":9},{"k":2,"t":0.032,"v":-7},{"k":2,"t":0.04,"v":4},{"k":2,"t":0.048,"v":-11},{"k":2,"t":0.056,"v":6},{"k":2,"t":0.064,"v":2},{"k":2,"t":0.072,"v":-6},{"k":2,"t":0.08,"v":8},{"k":2,"t":0.088,"v":-4},{"k":2,"t":0.096,"v":3},{"k":2,"t":0.104,"v":-9},{"k":2,"t":0.112,"v":5},{"k":2,"t":0.12,"v":11},{"k":2,"t":0.128,"v":-2},{"k":2,"t":0.136,"v":-8},{"k":2,"t":0.144,"v":3},{"k":2,"t":0.152,"v":-10},{"k":2,"t":0.16,"v":8},
{"k":3,"t":-0.16,"v":2},{"k":3,"t":-0.152,"v":8},{"k":3,"t":-0.144,"v":-6},{"k":3,"t":-0.136,"v":10},{"k":3,"t":-0.128,"v":-3},{"k":3,"t":-0.12,"v":-17},{"k":3,"t":-0.112,"v":7},{"k":3,"t":-0.104,"v":12},{"k":3,"t":-0.096,"v":4},{"k":3,"t":-0.088,"v":16},{"k":3,"t":-0.08,"v":5},{"k":3,"t":-0.072,"v":9},{"k":3,"t":-0.064,"v":18},{"k":3,"t":-0.056,"v":-2},{"k":3,"t":-0.048,"v":5},{"k":3,"t":-0.04,"v":-6},{"k":3,"t":-0.032,"v":3},{"k":3,"t":-0.024,"v":-4},{"k":3,"t":-0.016,"v":6},{"k":3,"t":-0.008,"v":-8},{"k":3,"t":0,"v":-12},{"k":3,"t":0.008,"v":4},{"k":3,"t":0.016,"v":7},{"k":3,"t":0.024,"v":-3},{"k":3,"t":0.032,"v":9},{"k":3,"t":0.04,"v":-5},{"k":3,"t":0.048,"v":2},{"k":3,"t":0.056,"v":10},{"k":3,"t":0.064,"v":-4},{"k":3,"t":0.072,"v":6},{"k":3,"t":0.08,"v":-9},{"k":3,"t":0.088,"v":8},{"k":3,"t":0.096,"v":3},{"k":3,"t":0.104,"v":-11},{"k":3,"t":0.112,"v":4},{"k":3,"t":0.12,"v":-14},{"k":3,"t":0.128,"v":2},{"k":3,"t":0.136,"v":7},{"k":3,"t":0.144,"v":-3},{"k":3,"t":0.152,"v":5},{"k":3,"t":0.16,"v":1},
{"k":4,"t":-0.16,"v":-3},{"k":4,"t":-0.152,"v":7},{"k":4,"t":-0.144,"v":-10},{"k":4,"t":-0.136,"v":12},{"k":4,"t":-0.128,"v":-5},{"k":4,"t":-0.12,"v":9},{"k":4,"t":-0.112,"v":-8},{"k":4,"t":-0.104,"v":6},{"k":4,"t":-0.096,"v":-4},{"k":4,"t":-0.088,"v":11},{"k":4,"t":-0.08,"v":-9},{"k":4,"t":-0.072,"v":3},{"k":4,"t":-0.064,"v":14},{"k":4,"t":-0.056,"v":-6},{"k":4,"t":-0.048,"v":20},{"k":4,"t":-0.04,"v":4},{"k":4,"t":-0.032,"v":-2},{"k":4,"t":-0.024,"v":13},{"k":4,"t":-0.016,"v":-8},{"k":4,"t":-0.008,"v":-4},{"k":4,"t":0,"v":-6},{"k":4,"t":0.008,"v":16},{"k":4,"t":0.016,"v":3},{"k":4,"t":0.024,"v":9},{"k":4,"t":0.032,"v":-3},{"k":4,"t":0.04,"v":11},{"k":4,"t":0.048,"v":6},{"k":4,"t":0.056,"v":2},{"k":4,"t":0.064,"v":-5},{"k":4,"t":0.072,"v":8},{"k":4,"t":0.08,"v":-12},{"k":4,"t":0.088,"v":3},{"k":4,"t":0.096,"v":9},{"k":4,"t":0.104,"v":-5},{"k":4,"t":0.112,"v":4},{"k":4,"t":0.12,"v":-3},{"k":4,"t":0.128,"v":8},{"k":4,"t":0.136,"v":-6},{"k":4,"t":0.144,"v":2},{"k":4,"t":0.152,"v":5},{"k":4,"t":0.16,"v":7},
{"k":5,"t":-0.16,"v":4},{"k":5,"t":-0.152,"v":-6},{"k":5,"t":-0.144,"v":2},{"k":5,"t":-0.136,"v":9},{"k":5,"t":-0.128,"v":-3},{"k":5,"t":-0.12,"v":6},{"k":5,"t":-0.112,"v":-8},{"k":5,"t":-0.104,"v":12},{"k":5,"t":-0.096,"v":-5},{"k":5,"t":-0.088,"v":20},{"k":5,"t":-0.08,"v":-2},{"k":5,"t":-0.072,"v":7},{"k":5,"t":-0.064,"v":-10},{"k":5,"t":-0.056,"v":14},{"k":5,"t":-0.048,"v":-3},{"k":5,"t":-0.04,"v":8},{"k":5,"t":-0.032,"v":-6},{"k":5,"t":-0.024,"v":11},{"k":5,"t":-0.016,"v":2},{"k":5,"t":-0.008,"v":-5},{"k":5,"t":0,"v":9},{"k":5,"t":0.008,"v":3},{"k":5,"t":0.016,"v":-4},{"k":5,"t":0.024,"v":7},{"k":5,"t":0.032,"v":-8},{"k":5,"t":0.04,"v":5},{"k":5,"t":0.048,"v":10},{"k":5,"t":0.056,"v":-2},{"k":5,"t":0.064,"v":13},{"k":5,"t":0.072,"v":-6},{"k":5,"t":0.08,"v":4},{"k":5,"t":0.088,"v":18},{"k":5,"t":0.096,"v":-3},{"k":5,"t":0.104,"v":6},{"k":5,"t":0.112,"v":-7},{"k":5,"t":0.12,"v":4},{"k":5,"t":0.128,"v":-2},{"k":5,"t":0.136,"v":8},{"k":5,"t":0.144,"v":-5},{"k":5,"t":0.152,"v":3},{"k":5,"t":0.16,"v":1},
{"k":6,"t":-0.16,"v":2},{"k":6,"t":-0.152,"v":4},{"k":6,"t":-0.144,"v":-3},{"k":6,"t":-0.136,"v":-8},{"k":6,"t":-0.128,"v":6},{"k":6,"t":-0.12,"v":-5},{"k":6,"t":-0.112,"v":3},{"k":6,"t":-0.104,"v":15},{"k":6,"t":-0.096,"v":-4},{"k":6,"t":-0.088,"v":9},{"k":6,"t":-0.08,"v":12},{"k":6,"t":-0.072,"v":-6},{"k":6,"t":-0.064,"v":13},{"k":6,"t":-0.056,"v":-2},{"k":6,"t":-0.048,"v":7},{"k":6,"t":-0.04,"v":-9},{"k":6,"t":-0.032,"v":5},{"k":6,"t":-0.024,"v":10},{"k":6,"t":-0.016,"v":-5},{"k":6,"t":-0.008,"v":3},{"k":6,"t":0,"v":-2},{"k":6,"t":0.008,"v":6},{"k":6,"t":0.016,"v":8},{"k":6,"t":0.024,"v":-4},{"k":6,"t":0.032,"v":9},{"k":6,"t":0.04,"v":-12},{"k":6,"t":0.048,"v":4},{"k":6,"t":0.056,"v":6},{"k":6,"t":0.064,"v":-3},{"k":6,"t":0.072,"v":2},{"k":6,"t":0.08,"v":13},{"k":6,"t":0.088,"v":-6},{"k":6,"t":0.096,"v":3},{"k":6,"t":0.104,"v":7},{"k":6,"t":0.112,"v":-8},{"k":6,"t":0.12,"v":2},{"k":6,"t":0.128,"v":-5},{"k":6,"t":0.136,"v":-9},{"k":6,"t":0.144,"v":4},{"k":6,"t":0.152,"v":-7},{"k":6,"t":0.16,"v":5},
{"k":7,"t":-0.16,"v":-14},{"k":7,"t":-0.152,"v":4},{"k":7,"t":-0.144,"v":8},{"k":7,"t":-0.136,"v":-3},{"k":7,"t":-0.128,"v":11},{"k":7,"t":-0.12,"v":-6},{"k":7,"t":-0.112,"v":3},{"k":7,"t":-0.104,"v":14},{"k":7,"t":-0.096,"v":-4},{"k":7,"t":-0.088,"v":5},{"k":7,"t":-0.08,"v":-9},{"k":7,"t":-0.072,"v":2},{"k":7,"t":-0.064,"v":-7},{"k":7,"t":-0.056,"v":6},{"k":7,"t":-0.048,"v":9},{"k":7,"t":-0.04,"v":-3},{"k":7,"t":-0.032,"v":-12},{"k":7,"t":-0.024,"v":5},{"k":7,"t":-0.016,"v":8},{"k":7,"t":-0.008,"v":-4},{"k":7,"t":0,"v":-10},{"k":7,"t":0.008,"v":12},{"k":7,"t":0.016,"v":3},{"k":7,"t":0.024,"v":-6},{"k":7,"t":0.032,"v":9},{"k":7,"t":0.04,"v":-8},{"k":7,"t":0.048,"v":4},{"k":7,"t":0.056,"v":10},{"k":7,"t":0.064,"v":-2},{"k":7,"t":0.072,"v":6},{"k":7,"t":0.08,"v":-12},{"k":7,"t":0.088,"v":3},{"k":7,"t":0.096,"v":11},{"k":7,"t":0.104,"v":5},{"k":7,"t":0.112,"v":-4},{"k":7,"t":0.12,"v":8},{"k":7,"t":0.128,"v":1},{"k":7,"t":0.136,"v":6},{"k":7,"t":0.144,"v":-3},{"k":7,"t":0.152,"v":7},{"k":7,"t":0.16,"v":10},
{"k":8,"t":-0.16,"v":4},{"k":8,"t":-0.152,"v":1},{"k":8,"t":-0.144,"v":-6},{"k":8,"t":-0.136,"v":-2},{"k":8,"t":-0.128,"v":3},{"k":8,"t":-0.12,"v":6},{"k":8,"t":-0.112,"v":-8},{"k":8,"t":-0.104,"v":15},{"k":8,"t":-0.096,"v":2},{"k":8,"t":-0.088,"v":-10},{"k":8,"t":-0.08,"v":4},{"k":8,"t":-0.072,"v":9},{"k":8,"t":-0.064,"v":-2},{"k":8,"t":-0.056,"v":12},{"k":8,"t":-0.048,"v":-7},{"k":8,"t":-0.04,"v":7},{"k":8,"t":-0.032,"v":3},{"k":8,"t":-0.024,"v":-12},{"k":8,"t":-0.016,"v":8},{"k":8,"t":-0.008,"v":-4},{"k":8,"t":0,"v":2},{"k":8,"t":0.008,"v":5},{"k":8,"t":0.016,"v":-6},{"k":8,"t":0.024,"v":12},{"k":8,"t":0.032,"v":-8},{"k":8,"t":0.04,"v":-18},{"k":8,"t":0.048,"v":4},{"k":8,"t":0.056,"v":8},{"k":8,"t":0.064,"v":-5},{"k":8,"t":0.072,"v":10},{"k":8,"t":0.08,"v":-3},{"k":8,"t":0.088,"v":4},{"k":8,"t":0.096,"v":15},{"k":8,"t":0.104,"v":-2},{"k":8,"t":0.112,"v":6},{"k":8,"t":0.12,"v":-10},{"k":8,"t":0.128,"v":3},{"k":8,"t":0.136,"v":12},{"k":8,"t":0.144,"v":-4},{"k":8,"t":0.152,"v":5},{"k":8,"t":0.16,"v":6},
{"k":9,"t":-0.16,"v":6},{"k":9,"t":-0.152,"v":-8},{"k":9,"t":-0.144,"v":-2},{"k":9,"t":-0.136,"v":4},{"k":9,"t":-0.128,"v":-10},{"k":9,"t":-0.12,"v":2},{"k":9,"t":-0.112,"v":5},{"k":9,"t":-0.104,"v":12},{"k":9,"t":-0.096,"v":-4},{"k":9,"t":-0.088,"v":3},{"k":9,"t":-0.08,"v":-12},{"k":9,"t":-0.072,"v":8},{"k":9,"t":-0.064,"v":4},{"k":9,"t":-0.056,"v":3},{"k":9,"t":-0.048,"v":-5},{"k":9,"t":-0.04,"v":10},{"k":9,"t":-0.032,"v":-2},{"k":9,"t":-0.024,"v":-8},{"k":9,"t":-0.016,"v":3},{"k":9,"t":-0.008,"v":11},{"k":9,"t":0,"v":-3},{"k":9,"t":0.008,"v":6},{"k":9,"t":0.016,"v":4},{"k":9,"t":0.024,"v":-6},{"k":9,"t":0.032,"v":9},{"k":9,"t":0.04,"v":-4},{"k":9,"t":0.048,"v":-12},{"k":9,"t":0.056,"v":7},{"k":9,"t":0.064,"v":2},{"k":9,"t":0.072,"v":3},{"k":9,"t":0.08,"v":-10},{"k":9,"t":0.088,"v":12},{"k":9,"t":0.096,"v":6},{"k":9,"t":0.104,"v":-8},{"k":9,"t":0.112,"v":3},{"k":9,"t":0.12,"v":5},{"k":9,"t":0.128,"v":-6},{"k":9,"t":0.136,"v":8},{"k":9,"t":0.144,"v":-2},{"k":9,"t":0.152,"v":5},{"k":9,"t":0.16,"v":-3},
{"k":1,"t":-0.16,"f":0},{"k":1,"t":-0.151,"f":-4},{"k":1,"t":-0.13,"f":7},{"k":1,"t":-0.104,"f":-2},{"k":1,"t":-0.089,"f":2},{"k":1,"t":-0.074,"f":-3},{"k":1,"t":-0.056,"f":1},{"k":1,"t":-0.041,"f":-3},{"k":1,"t":-0.023,"f":3},{"k":1,"t":-0.002,"f":-1},{"k":1,"t":0.01,"f":1},{"k":1,"t":0.03,"f":-4},{"k":1,"t":0.051,"f":7},{"k":1,"t":0.078,"f":-5},{"k":1,"t":0.099,"f":5},{"k":1,"t":0.12,"f":-1},{"k":1,"t":0.138,"f":2},{"k":1,"t":0.16,"f":1},
{"k":2,"t":-0.16,"f":3},{"k":2,"t":-0.13,"f":-5},{"k":2,"t":-0.104,"f":5},{"k":2,"t":-0.083,"f":-4},{"k":2,"t":-0.065,"f":1},{"k":2,"t":-0.048,"f":-2},{"k":2,"t":-0.033,"f":1},{"k":2,"t":-0.015,"f":-1},{"k":2,"t":0.015,"f":-3},{"k":2,"t":0.03,"f":6},{"k":2,"t":0.057,"f":-6},{"k":2,"t":0.077,"f":5},{"k":2,"t":0.098,"f":-2},{"k":2,"t":0.122,"f":0},{"k":2,"t":0.16,"f":0},
{"k":3,"t":-0.16,"f":4},{"k":3,"t":-0.143,"f":-1},{"k":3,"t":-0.125,"f":2},{"k":3,"t":-0.107,"f":-4},{"k":3,"t":-0.086,"f":2},{"k":3,"t":-0.065,"f":-1},{"k":3,"t":-0.045,"f":1},{"k":3,"t":-0.03,"f":-2},{"k":3,"t":-0.014,"f":5},{"k":3,"t":0.002,"f":-6},{"k":3,"t":0.02,"f":3},{"k":3,"t":0.04,"f":-2},{"k":3,"t":0.062,"f":2},{"k":3,"t":0.082,"f":-3},{"k":3,"t":0.102,"f":3},{"k":3,"t":0.125,"f":-2},{"k":3,"t":0.145,"f":1},{"k":3,"t":0.16,"f":0},
{"k":4,"t":-0.16,"f":-2},{"k":4,"t":-0.13,"f":6},{"k":4,"t":-0.113,"f":-6},{"k":4,"t":-0.093,"f":6},{"k":4,"t":-0.073,"f":-7},{"k":4,"t":-0.056,"f":1},{"k":4,"t":-0.036,"f":-8},{"k":4,"t":-0.019,"f":9},{"k":4,"t":0,"f":-10},{"k":4,"t":0.018,"f":8},{"k":4,"t":0.038,"f":-4},{"k":4,"t":0.058,"f":0},{"k":4,"t":0.078,"f":-4},{"k":4,"t":0.095,"f":3},{"k":4,"t":0.11,"f":-5},{"k":4,"t":0.13,"f":0},{"k":4,"t":0.16,"f":-1},
{"k":5,"t":-0.16,"f":-3},{"k":5,"t":-0.139,"f":5},{"k":5,"t":-0.116,"f":-4},{"k":5,"t":-0.096,"f":5},{"k":5,"t":-0.076,"f":-5},{"k":5,"t":-0.058,"f":7},{"k":5,"t":-0.037,"f":-4},{"k":5,"t":-0.018,"f":7},{"k":5,"t":0,"f":-3},{"k":5,"t":0.017,"f":1},{"k":5,"t":0.034,"f":-3},{"k":5,"t":0.047,"f":3},{"k":5,"t":0.067,"f":-4},{"k":5,"t":0.084,"f":4},{"k":5,"t":0.106,"f":-2},{"k":5,"t":0.125,"f":1},{"k":5,"t":0.16,"f":-1},
{"k":6,"t":-0.16,"f":2},{"k":6,"t":-0.135,"f":-4},{"k":6,"t":-0.115,"f":3},{"k":6,"t":-0.098,"f":-3},{"k":6,"t":-0.079,"f":8},{"k":6,"t":-0.059,"f":-10},{"k":6,"t":-0.039,"f":4},{"k":6,"t":-0.022,"f":-4},{"k":6,"t":-0.004,"f":0},{"k":6,"t":0.024,"f":5},{"k":6,"t":0.044,"f":-8},{"k":6,"t":0.064,"f":6},{"k":6,"t":0.084,"f":-5},{"k":6,"t":0.107,"f":2},{"k":6,"t":0.128,"f":-1},{"k":6,"t":0.16,"f":-1},
{"k":7,"t":-0.16,"f":6},{"k":7,"t":-0.148,"f":9},{"k":7,"t":-0.122,"f":-8},{"k":7,"t":-0.087,"f":7},{"k":7,"t":-0.067,"f":-8},{"k":7,"t":-0.045,"f":5},{"k":7,"t":-0.022,"f":-4},{"k":7,"t":-0.002,"f":3},{"k":7,"t":0.024,"f":-3},{"k":7,"t":0.044,"f":3},{"k":7,"t":0.061,"f":-2},{"k":7,"t":0.087,"f":5},{"k":7,"t":0.11,"f":-5},{"k":7,"t":0.13,"f":-1},{"k":7,"t":0.16,"f":-1},
{"k":8,"t":-0.16,"f":4},{"k":8,"t":-0.124,"f":-4},{"k":8,"t":-0.1,"f":-1},{"k":8,"t":-0.079,"f":2},{"k":8,"t":-0.055,"f":-3},{"k":8,"t":-0.025,"f":5},{"k":8,"t":-0.002,"f":-4},{"k":8,"t":0.018,"f":4},{"k":8,"t":0.058,"f":-8},{"k":8,"t":0.078,"f":10},{"k":8,"t":0.098,"f":-6},{"k":8,"t":0.118,"f":2},{"k":8,"t":0.138,"f":-1},{"k":8,"t":0.16,"f":-1},
{"k":9,"t":-0.16,"f":1},{"k":9,"t":-0.119,"f":4},{"k":9,"t":-0.099,"f":-1},{"k":9,"t":-0.07,"f":5},{"k":9,"t":-0.047,"f":-1},{"k":9,"t":-0.025,"f":3},{"k":9,"t":-0.005,"f":-4},{"k":9,"t":0.024,"f":5},{"k":9,"t":0.044,"f":-2},{"k":9,"t":0.061,"f":9},{"k":9,"t":0.084,"f":-8},{"k":9,"t":0.101,"f":8},{"k":9,"t":0.118,"f":0},{"k":9,"t":0.135,"f":3},{"k":9,"t":0.16,"f":0}
]},
"facet":{"row":{"field":"k","type":"ordinal","header":null}},
"spacing":{"row":0},"bounds":"flush",
"spec":{"width":230,"height":51.8,
"layer":[
{"mark":{"type":"rule","color":"#000","strokeWidth":1},"encoding":{"x":{"datum":0,"type":"quantitative","scale":{"domain":[-0.2,0.2],"nice":false,"zero":false},"axis":{"orient":"top","labels":false,"values":[-0.1,0,0.1]}}}},
{"transform":[{"filter":"isValid(datum.v)"}],"mark":{"type":"line","color":"#000","strokeWidth":1},"encoding":{"x":{"field":"t","type":"quantitative","scale":{"domain":[-0.2,0.2],"nice":false,"zero":false},"axis":{"orient":"bottom","values":[-0.2,-0.1,0,0.1,0.2],"tickOpacity":{"condition":{"test":"abs(datum.value) > 0.15","value":0},"value":1},"labelExpr":"(datum.value < 0 ? '-' : '') + (datum.value == 0 ? '0' : format(abs(datum.value), '.1f'))"}},"y":{"field":"v","type":"quantitative","scale":{"domain":[-26,26],"nice":false,"zero":false},"axis":null}}},
{"transform":[{"filter":"isValid(datum.f)"}],"mark":{"type":"line","color":"#E69F00","strokeWidth":2,"interpolate":"monotone"},"encoding":{"x":{"field":"t","type":"quantitative","axis":null},"y":{"field":"f","type":"quantitative","axis":null}}}
],
"resolve":{"axis":{"x":"independent"}}}
}]},
{"title":{"text":"D","anchor":"start","frame":"group","fontSize":29,"fontWeight":"bold","dx":-18,"dy":26},
"vconcat":[{
"title":{"text":"Beta around","subtitle":"Burst","subtitleColor":"#009E73","anchor":"middle","offset":8.25},
"data":{"values":[
{"k":1,"t":-0.16,"v":-3},{"k":1,"t":-0.152,"v":-12},{"k":1,"t":-0.144,"v":4},{"k":1,"t":-0.136,"v":8},{"k":1,"t":-0.128,"v":6},{"k":1,"t":-0.12,"v":3},{"k":1,"t":-0.112,"v":-4},{"k":1,"t":-0.104,"v":5},{"k":1,"t":-0.096,"v":-10},{"k":1,"t":-0.088,"v":7},{"k":1,"t":-0.08,"v":2},{"k":1,"t":-0.072,"v":12},{"k":1,"t":-0.064,"v":-5},{"k":1,"t":-0.056,"v":20},{"k":1,"t":-0.048,"v":3},{"k":1,"t":-0.04,"v":8},{"k":1,"t":-0.032,"v":-2},{"k":1,"t":-0.024,"v":10},{"k":1,"t":-0.016,"v":14},{"k":1,"t":-0.008,"v":-6},{"k":1,"t":0,"v":18},{"k":1,"t":0.008,"v":4},{"k":1,"t":0.016,"v":-8},{"k":1,"t":0.024,"v":6},{"k":1,"t":0.032,"v":3},{"k":1,"t":0.04,"v":2},{"k":1,"t":0.048,"v":7},{"k":1,"t":0.056,"v":1},{"k":1,"t":0.064,"v":-14},{"k":1,"t":0.072,"v":3},{"k":1,"t":0.08,"v":5},{"k":1,"t":0.088,"v":-3},{"k":1,"t":0.096,"v":-5},{"k":1,"t":0.104,"v":4},{"k":1,"t":0.112,"v":6},{"k":1,"t":0.12,"v":2},{"k":1,"t":0.128,"v":16},{"k":1,"t":0.136,"v":5},{"k":1,"t":0.144,"v":8},{"k":1,"t":0.152,"v":-3},{"k":1,"t":0.16,"v":-4},
{"k":2,"t":-0.16,"v":3},{"k":2,"t":-0.152,"v":-4},{"k":2,"t":-0.144,"v":0},{"k":2,"t":-0.136,"v":-8},{"k":2,"t":-0.128,"v":2},{"k":2,"t":-0.12,"v":-6},{"k":2,"t":-0.112,"v":4},{"k":2,"t":-0.104,"v":-5},{"k":2,"t":-0.096,"v":8},{"k":2,"t":-0.088,"v":-7},{"k":2,"t":-0.08,"v":6},{"k":2,"t":-0.072,"v":-3},{"k":2,"t":-0.064,"v":-10},{"k":2,"t":-0.056,"v":2},{"k":2,"t":-0.048,"v":9},{"k":2,"t":-0.04,"v":-4},{"k":2,"t":-0.032,"v":5},{"k":2,"t":-0.024,"v":3},{"k":2,"t":-0.016,"v":-5},{"k":2,"t":-0.008,"v":8},{"k":2,"t":0,"v":12},{"k":2,"t":0.008,"v":5},{"k":2,"t":0.016,"v":-2},{"k":2,"t":0.024,"v":10},{"k":2,"t":0.032,"v":-3},{"k":2,"t":0.04,"v":6},{"k":2,"t":0.048,"v":3},{"k":2,"t":0.056,"v":-6},{"k":2,"t":0.064,"v":4},{"k":2,"t":0.072,"v":-8},{"k":2,"t":0.08,"v":2},{"k":2,"t":0.088,"v":5},{"k":2,"t":0.096,"v":-18},{"k":2,"t":0.104,"v":-4},{"k":2,"t":0.112,"v":6},{"k":2,"t":0.12,"v":-5},{"k":2,"t":0.128,"v":2},{"k":2,"t":0.136,"v":5},{"k":2,"t":0.144,"v":-3},{"k":2,"t":0.152,"v":12},{"k":2,"t":0.16,"v":7},
{"k":3,"t":-0.16,"v":-4},{"k":3,"t":-0.152,"v":3},{"k":3,"t":-0.144,"v":-6},{"k":3,"t":-0.136,"v":10},{"k":3,"t":-0.128,"v":-3},{"k":3,"t":-0.12,"v":2},{"k":3,"t":-0.112,"v":-5},{"k":3,"t":-0.104,"v":4},{"k":3,"t":-0.096,"v":-8},{"k":3,"t":-0.088,"v":3},{"k":3,"t":-0.08,"v":-1},{"k":3,"t":-0.072,"v":7},{"k":3,"t":-0.064,"v":-4},{"k":3,"t":-0.056,"v":14},{"k":3,"t":-0.048,"v":2},{"k":3,"t":-0.04,"v":4},{"k":3,"t":-0.032,"v":-6},{"k":3,"t":-0.024,"v":6},{"k":3,"t":-0.016,"v":3},{"k":3,"t":-0.008,"v":12},{"k":3,"t":0,"v":8},{"k":3,"t":0.008,"v":-4},{"k":3,"t":0.016,"v":3},{"k":3,"t":0.024,"v":-2},{"k":3,"t":0.032,"v":8},{"k":3,"t":0.04,"v":5},{"k":3,"t":0.048,"v":-6},{"k":3,"t":0.056,"v":2},{"k":3,"t":0.064,"v":-12},{"k":3,"t":0.072,"v":-18},{"k":3,"t":0.08,"v":4},{"k":3,"t":0.088,"v":10},{"k":3,"t":0.096,"v":-3},{"k":3,"t":0.104,"v":5},{"k":3,"t":0.112,"v":8},{"k":3,"t":0.12,"v":14},{"k":3,"t":0.128,"v":6},{"k":3,"t":0.136,"v":-2},{"k":3,"t":0.144,"v":1},{"k":3,"t":0.152,"v":-5},{"k":3,"t":0.16,"v":3},
{"k":4,"t":-0.16,"v":3},{"k":4,"t":-0.152,"v":-5},{"k":4,"t":-0.144,"v":0},{"k":4,"t":-0.136,"v":-12},{"k":4,"t":-0.128,"v":-8},{"k":4,"t":-0.12,"v":3},{"k":4,"t":-0.112,"v":6},{"k":4,"t":-0.104,"v":-4},{"k":4,"t":-0.096,"v":10},{"k":4,"t":-0.088,"v":-3},{"k":4,"t":-0.08,"v":5},{"k":4,"t":-0.072,"v":8},{"k":4,"t":-0.064,"v":-2},{"k":4,"t":-0.056,"v":4},{"k":4,"t":-0.048,"v":9},{"k":4,"t":-0.04,"v":5},{"k":4,"t":-0.032,"v":-6},{"k":4,"t":-0.024,"v":3},{"k":4,"t":-0.016,"v":10},{"k":4,"t":-0.008,"v":-4},{"k":4,"t":0,"v":12},{"k":4,"t":0.008,"v":3},{"k":4,"t":0.016,"v":5},{"k":4,"t":0.024,"v":-2},{"k":4,"t":0.032,"v":8},{"k":4,"t":0.04,"v":3},{"k":4,"t":0.048,"v":6},{"k":4,"t":0.056,"v":-3},{"k":4,"t":0.064,"v":10},{"k":4,"t":0.072,"v":2},{"k":4,"t":0.08,"v":-5},{"k":4,"t":0.088,"v":7},{"k":4,"t":0.096,"v":2},{"k":4,"t":0.104,"v":9},{"k":4,"t":0.112,"v":-2},{"k":4,"t":0.12,"v":4},{"k":4,"t":0.128,"v":3},{"k":4,"t":0.136,"v":8},{"k":4,"t":0.144,"v":-2},{"k":4,"t":0.152,"v":5},{"k":4,"t":0.16,"v":1},
{"k":5,"t":-0.16,"v":-4},{"k":5,"t":-0.152,"v":5},{"k":5,"t":-0.144,"v":8},{"k":5,"t":-0.136,"v":-6},{"k":5,"t":-0.128,"v":2},{"k":5,"t":-0.12,"v":10},{"k":5,"t":-0.112,"v":-3},{"k":5,"t":-0.104,"v":9},{"k":5,"t":-0.096,"v":-8},{"k":5,"t":-0.088,"v":4},{"k":5,"t":-0.08,"v":7},{"k":5,"t":-0.072,"v":-2},{"k":5,"t":-0.064,"v":14},{"k":5,"t":-0.056,"v":3},{"k":5,"t":-0.048,"v":-6},{"k":5,"t":-0.04,"v":12},{"k":5,"t":-0.032,"v":2},{"k":5,"t":-0.024,"v":8},{"k":5,"t":-0.016,"v":-3},{"k":5,"t":-0.008,"v":6},{"k":5,"t":0,"v":15},{"k":5,"t":0.008,"v":2},{"k":5,"t":0.016,"v":-4},{"k":5,"t":0.024,"v":10},{"k":5,"t":0.032,"v":3},{"k":5,"t":0.04,"v":-5},{"k":5,"t":0.048,"v":11},{"k":5,"t":0.056,"v":2},{"k":5,"t":0.064,"v":7},{"k":5,"t":0.072,"v":0},{"k":5,"t":0.08,"v":5},{"k":5,"t":0.088,"v":-4},{"k":5,"t":0.096,"v":6},{"k":5,"t":0.104,"v":12},{"k":5,"t":0.112,"v":-3},{"k":5,"t":0.12,"v":4},{"k":5,"t":0.128,"v":9},{"k":5,"t":0.136,"v":-2},{"k":5,"t":0.144,"v":6},{"k":5,"t":0.152,"v":3},{"k":5,"t":0.16,"v":8},
{"k":6,"t":-0.16,"v":-2},{"k":6,"t":-0.152,"v":8},{"k":6,"t":-0.144,"v":10},{"k":6,"t":-0.136,"v":3},{"k":6,"t":-0.128,"v":-5},{"k":6,"t":-0.12,"v":-8},{"k":6,"t":-0.112,"v":0},{"k":6,"t":-0.104,"v":4},{"k":6,"t":-0.096,"v":6},{"k":6,"t":-0.088,"v":2},{"k":6,"t":-0.08,"v":-3},{"k":6,"t":-0.072,"v":12},{"k":6,"t":-0.064,"v":5},{"k":6,"t":-0.056,"v":4},{"k":6,"t":-0.048,"v":3},{"k":6,"t":-0.04,"v":2},{"k":6,"t":-0.032,"v":8},{"k":6,"t":-0.024,"v":5},{"k":6,"t":-0.016,"v":3},{"k":6,"t":-0.008,"v":-2},{"k":6,"t":0,"v":-1},{"k":6,"t":0.008,"v":3},{"k":6,"t":0.016,"v":0},{"k":6,"t":0.024,"v":14},{"k":6,"t":0.032,"v":6},{"k":6,"t":0.04,"v":-6},{"k":6,"t":0.048,"v":-3},{"k":6,"t":0.056,"v":-8},{"k":6,"t":0.064,"v":-5},{"k":6,"t":0.072,"v":0},{"k":6,"t":0.08,"v":-10},{"k":6,"t":0.088,"v":-12},{"k":6,"t":0.096,"v":-5},{"k":6,"t":0.104,"v":-14},{"k":6,"t":0.112,"v":3},{"k":6,"t":0.12,"v":12},{"k":6,"t":0.128,"v":4},{"k":6,"t":0.136,"v":2},{"k":6,"t":0.144,"v":10},{"k":6,"t":0.152,"v":13},{"k":6,"t":0.16,"v":15},
{"k":7,"t":-0.16,"v":3},{"k":7,"t":-0.152,"v":-4},{"k":7,"t":-0.144,"v":6},{"k":7,"t":-0.136,"v":-6},{"k":7,"t":-0.128,"v":2},{"k":7,"t":-0.12,"v":-3},{"k":7,"t":-0.112,"v":8},{"k":7,"t":-0.104,"v":-2},{"k":7,"t":-0.096,"v":4},{"k":7,"t":-0.088,"v":18},{"k":7,"t":-0.08,"v":-4},{"k":7,"t":-0.072,"v":8},{"k":7,"t":-0.064,"v":2},{"k":7,"t":-0.056,"v":10},{"k":7,"t":-0.048,"v":-3},{"k":7,"t":-0.04,"v":6},{"k":7,"t":-0.032,"v":2},{"k":7,"t":-0.024,"v":12},{"k":7,"t":-0.016,"v":-6},{"k":7,"t":-0.008,"v":4},{"k":7,"t":0,"v":10},{"k":7,"t":0.008,"v":-10},{"k":7,"t":0.016,"v":-15},{"k":7,"t":0.024,"v":-12},{"k":7,"t":0.032,"v":-6},{"k":7,"t":0.04,"v":2},{"k":7,"t":0.048,"v":-4},{"k":7,"t":0.056,"v":10},{"k":7,"t":0.064,"v":14},{"k":7,"t":0.072,"v":16},{"k":7,"t":0.08,"v":12},{"k":7,"t":0.088,"v":10},{"k":7,"t":0.096,"v":8},{"k":7,"t":0.104,"v":4},{"k":7,"t":0.112,"v":-6},{"k":7,"t":0.12,"v":-2},{"k":7,"t":0.128,"v":-14},{"k":7,"t":0.136,"v":3},{"k":7,"t":0.144,"v":-5},{"k":7,"t":0.152,"v":0},{"k":7,"t":0.16,"v":3},
{"k":8,"t":-0.16,"v":-5},{"k":8,"t":-0.152,"v":10},{"k":8,"t":-0.144,"v":-12},{"k":8,"t":-0.136,"v":3},{"k":8,"t":-0.128,"v":-6},{"k":8,"t":-0.12,"v":8},{"k":8,"t":-0.112,"v":-10},{"k":8,"t":-0.104,"v":5},{"k":8,"t":-0.096,"v":6},{"k":8,"t":-0.088,"v":10},{"k":8,"t":-0.08,"v":18},{"k":8,"t":-0.072,"v":-3},{"k":8,"t":-0.064,"v":7},{"k":8,"t":-0.056,"v":2},{"k":8,"t":-0.048,"v":10},{"k":8,"t":-0.04,"v":-4},{"k":8,"t":-0.032,"v":12},{"k":8,"t":-0.024,"v":-2},{"k":8,"t":-0.016,"v":3},{"k":8,"t":-0.008,"v":-6},{"k":8,"t":0,"v":5},{"k":8,"t":0.008,"v":-18},{"k":8,"t":0.016,"v":-8},{"k":8,"t":0.024,"v":-3},{"k":8,"t":0.032,"v":9},{"k":8,"t":0.04,"v":6},{"k":8,"t":0.048,"v":14},{"k":8,"t":0.056,"v":16},{"k":8,"t":0.064,"v":13},{"k":8,"t":0.072,"v":10},{"k":8,"t":0.08,"v":6},{"k":8,"t":0.088,"v":2},{"k":8,"t":0.096,"v":-3},{"k":8,"t":0.104,"v":-5},{"k":8,"t":0.112,"v":-8},{"k":8,"t":0.12,"v":6},{"k":8,"t":0.128,"v":-4},{"k":8,"t":0.136,"v":-10},{"k":8,"t":0.144,"v":-16},{"k":8,"t":0.152,"v":2},{"k":8,"t":0.16,"v":10},
{"k":9,"t":-0.16,"v":12},{"k":9,"t":-0.152,"v":18},{"k":9,"t":-0.144,"v":10},{"k":9,"t":-0.136,"v":14},{"k":9,"t":-0.128,"v":6},{"k":9,"t":-0.12,"v":8},{"k":9,"t":-0.112,"v":-5},{"k":9,"t":-0.104,"v":-8},{"k":9,"t":-0.096,"v":-12},{"k":9,"t":-0.088,"v":-6},{"k":9,"t":-0.08,"v":-10},{"k":9,"t":-0.072,"v":-15},{"k":9,"t":-0.064,"v":-4},{"k":9,"t":-0.056,"v":-12},{"k":9,"t":-0.048,"v":3},{"k":9,"t":-0.04,"v":-5},{"k":9,"t":-0.032,"v":2},{"k":9,"t":-0.024,"v":-6},{"k":9,"t":-0.016,"v":-3},{"k":9,"t":-0.008,"v":-8},{"k":9,"t":0,"v":8},{"k":9,"t":0.008,"v":4},{"k":9,"t":0.016,"v":12},{"k":9,"t":0.024,"v":-5},{"k":9,"t":0.032,"v":6},{"k":9,"t":0.04,"v":-2},{"k":9,"t":0.048,"v":5},{"k":9,"t":0.056,"v":10},{"k":9,"t":0.064,"v":3},{"k":9,"t":0.072,"v":-4},{"k":9,"t":0.08,"v":6},{"k":9,"t":0.088,"v":2},{"k":9,"t":0.096,"v":8},{"k":9,"t":0.104,"v":-12},{"k":9,"t":0.112,"v":-18},{"k":9,"t":0.12,"v":-6},{"k":9,"t":0.128,"v":2},{"k":9,"t":0.136,"v":-10},{"k":9,"t":0.144,"v":-4},{"k":9,"t":0.152,"v":5},{"k":9,"t":0.16,"v":14},
{"k":1,"t":-0.16,"f":-1},{"k":1,"t":-0.123,"f":7},{"k":1,"t":-0.1,"f":-6},{"k":1,"t":-0.08,"f":6},{"k":1,"t":-0.06,"f":-7},{"k":1,"t":-0.043,"f":8},{"k":1,"t":-0.023,"f":-9},{"k":1,"t":-0.009,"f":8},{"k":1,"t":0.009,"f":-3},{"k":1,"t":0.029,"f":1},{"k":1,"t":0.043,"f":-3},{"k":1,"t":0.06,"f":6},{"k":1,"t":0.08,"f":-3},{"k":1,"t":0.097,"f":6},{"k":1,"t":0.117,"f":-3},{"k":1,"t":0.134,"f":3},{"k":1,"t":0.16,"f":0},
{"k":2,"t":-0.16,"f":2},{"k":2,"t":-0.143,"f":0},{"k":2,"t":-0.123,"f":-6},{"k":2,"t":-0.106,"f":2},{"k":2,"t":-0.089,"f":-5},{"k":2,"t":-0.066,"f":3},{"k":2,"t":-0.043,"f":-4},{"k":2,"t":-0.023,"f":2},{"k":2,"t":-0.009,"f":-5},{"k":2,"t":0.006,"f":6},{"k":2,"t":0.026,"f":-7},{"k":2,"t":0.049,"f":4},{"k":2,"t":0.066,"f":-2},{"k":2,"t":0.083,"f":6},{"k":2,"t":0.103,"f":-7},{"k":2,"t":0.123,"f":1},{"k":2,"t":0.16,"f":0},
{"k":3,"t":-0.16,"f":-2},{"k":3,"t":-0.131,"f":3},{"k":3,"t":-0.117,"f":-4},{"k":3,"t":-0.097,"f":1},{"k":3,"t":-0.077,"f":-5},{"k":3,"t":-0.054,"f":3},{"k":3,"t":-0.031,"f":-4},{"k":3,"t":-0.003,"f":7},{"k":3,"t":0.014,"f":-5},{"k":3,"t":0.037,"f":6},{"k":3,"t":0.06,"f":-7},{"k":3,"t":0.08,"f":6},{"k":3,"t":0.111,"f":-6},{"k":3,"t":0.129,"f":2},{"k":3,"t":0.16,"f":0},
{"k":4,"t":-0.16,"f":-1},{"k":4,"t":-0.123,"f":6},{"k":4,"t":-0.094,"f":-4},{"k":4,"t":-0.077,"f":1},{"k":4,"t":-0.06,"f":-2},{"k":4,"t":-0.037,"f":0},{"k":4,"t":-0.017,"f":-4},{"k":4,"t":0.011,"f":6},{"k":4,"t":0.031,"f":-3},{"k":4,"t":0.06,"f":5},{"k":4,"t":0.086,"f":-6},{"k":4,"t":0.111,"f":3},{"k":4,"t":0.129,"f":-1},{"k":4,"t":0.16,"f":0},
{"k":5,"t":-0.16,"f":-1},{"k":5,"t":-0.13,"f":3},{"k":5,"t":-0.108,"f":-3},{"k":5,"t":-0.085,"f":3},{"k":5,"t":-0.064,"f":-4},{"k":5,"t":-0.045,"f":4},{"k":5,"t":-0.022,"f":-3},{"k":5,"t":-0.004,"f":2},{"k":5,"t":0.014,"f":-3},{"k":5,"t":0.034,"f":5},{"k":5,"t":0.055,"f":-3},{"k":5,"t":0.075,"f":3},{"k":5,"t":0.096,"f":-2},{"k":5,"t":0.118,"f":1},{"k":5,"t":0.16,"f":0},
{"k":6,"t":-0.16,"f":-1},{"k":6,"t":-0.137,"f":3},{"k":6,"t":-0.111,"f":-5},{"k":6,"t":-0.089,"f":3},{"k":6,"t":-0.066,"f":-3},{"k":6,"t":-0.046,"f":1},{"k":6,"t":-0.026,"f":-2},{"k":6,"t":0,"f":3},{"k":6,"t":0.014,"f":-1},{"k":6,"t":0.04,"f":6},{"k":6,"t":0.06,"f":-4},{"k":6,"t":0.08,"f":3},{"k":6,"t":0.097,"f":-3},{"k":6,"t":0.117,"f":3},{"k":6,"t":0.131,"f":-1},{"k":6,"t":0.16,"f":0},
{"k":7,"t":-0.16,"f":0},{"k":7,"t":-0.117,"f":-2},{"k":7,"t":-0.089,"f":-5},{"k":7,"t":-0.069,"f":6},{"k":7,"t":-0.049,"f":-2},{"k":7,"t":-0.029,"f":2},{"k":7,"t":-0.009,"f":-2},{"k":7,"t":0.014,"f":0},{"k":7,"t":0.031,"f":-3},{"k":7,"t":0.049,"f":2},{"k":7,"t":0.069,"f":-3},{"k":7,"t":0.089,"f":3},{"k":7,"t":0.106,"f":-3},{"k":7,"t":0.123,"f":1},{"k":7,"t":0.16,"f":0},
{"k":8,"t":-0.16,"f":1},{"k":8,"t":-0.134,"f":2},{"k":8,"t":-0.111,"f":-7},{"k":8,"t":-0.091,"f":7},{"k":8,"t":-0.071,"f":-1},{"k":8,"t":-0.054,"f":2},{"k":8,"t":-0.037,"f":-2},{"k":8,"t":-0.02,"f":1},{"k":8,"t":-0.003,"f":-3},{"k":8,"t":0.014,"f":4},{"k":8,"t":0.031,"f":-3},{"k":8,"t":0.049,"f":2},{"k":8,"t":0.069,"f":-2},{"k":8,"t":0.083,"f":2},{"k":8,"t":0.106,"f":-3},{"k":8,"t":0.123,"f":1},{"k":8,"t":0.16,"f":0},
{"k":9,"t":-0.16,"f":0},{"k":9,"t":-0.123,"f":4},{"k":9,"t":-0.094,"f":-4},{"k":9,"t":-0.074,"f":2},{"k":9,"t":-0.06,"f":-3},{"k":9,"t":-0.037,"f":5},{"k":9,"t":-0.017,"f":-6},{"k":9,"t":0.006,"f":7},{"k":9,"t":0.026,"f":-3},{"k":9,"t":0.043,"f":2},{"k":9,"t":0.06,"f":-2},{"k":9,"t":0.08,"f":2},{"k":9,"t":0.106,"f":-3},{"k":9,"t":0.123,"f":1},{"k":9,"t":0.16,"f":-1}
]},
"facet":{"row":{"field":"k","type":"ordinal","header":null}},
"spacing":{"row":0},"bounds":"flush",
"spec":{"width":230,"height":51.8,
"layer":[
{"mark":{"type":"rule","color":"#000","strokeWidth":1},"encoding":{"x":{"datum":0,"type":"quantitative","scale":{"domain":[-0.2,0.2],"nice":false,"zero":false},"axis":{"orient":"top","labels":false,"values":[-0.1,0,0.1]}}}},
{"transform":[{"filter":"isValid(datum.v)"}],"mark":{"type":"line","color":"#000","strokeWidth":1},"encoding":{"x":{"field":"t","type":"quantitative","scale":{"domain":[-0.2,0.2],"nice":false,"zero":false},"axis":{"orient":"bottom","values":[-0.2,-0.1,0,0.1,0.2],"tickOpacity":{"condition":{"test":"abs(datum.value) > 0.15","value":0},"value":1},"labelExpr":"(datum.value < 0 ? '-' : '') + (datum.value == 0 ? '0' : format(abs(datum.value), '.1f'))"}},"y":{"field":"v","type":"quantitative","scale":{"domain":[-26,26],"nice":false,"zero":false},"axis":null}}},
{"transform":[{"filter":"isValid(datum.f)"}],"mark":{"type":"line","color":"#009E73","strokeWidth":2,"interpolate":"monotone"},"encoding":{"x":{"field":"t","type":"quantitative","axis":null},"y":{"field":"f","type":"quantitative","axis":null}}}
],
"resolve":{"axis":{"x":"independent"}}}
}]}
]}
]
}
